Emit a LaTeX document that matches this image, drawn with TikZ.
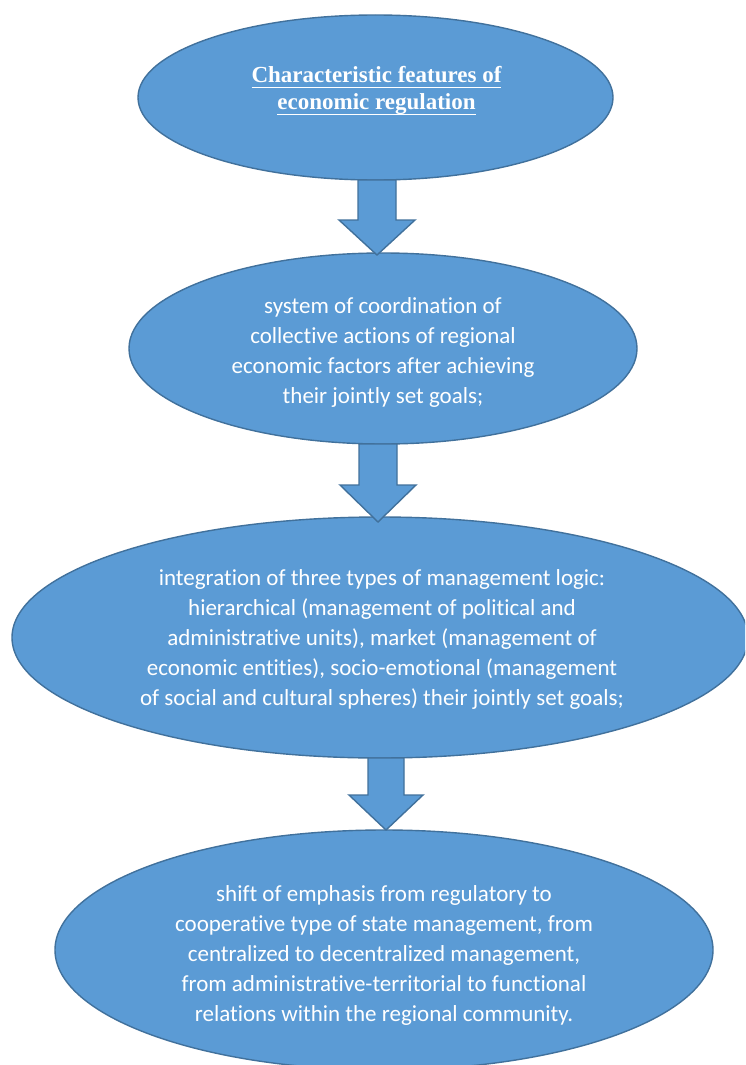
\documentclass[tikz,border=0pt]{standalone}
\usepackage{fontspec}
\setmainfont{Carlito}[RawFeature={-liga,-calt,-clig,-dlig}]
\newfontfamily\titlefont{Liberation Serif}
\usetikzlibrary{shapes.geometric,calc}
\definecolor{fillblue}{HTML}{5B9BD5}
\definecolor{edgeblue}{HTML}{41719C}
\newcommand\myul[1]{\setbox0\hbox{#1}\rlap{\rule[-6pt]{\wd0}{1.2pt}}\box0}
\newcommand\tI{t\kern0pt i}
\begin{document}
\begin{tikzpicture}[x=1pt,y=-1pt,
  ell/.style={ellipse, draw=edgeblue, fill=fillblue, line width=1.4pt, inner sep=0pt, outer sep=0pt},
  txt/.style={text=white, align=center, inner sep=0pt, font=\fontsize{23}{30}\selectfont},
  ttl/.style={text=white, align=center, inner sep=0pt, font=\titlefont\bfseries\fontsize{23}{27}\selectfont},
  barrow/.style={draw=edgeblue, fill=fillblue, line width=1.4pt, line join=miter}]
\useasboundingbox (0,0) rectangle (745,1065);
\clip (0,0) rectangle (745,1065);
\fill[white] (0,0) rectangle (745,1065);
% ellipses
\node[ell, minimum width=475pt, minimum height=165pt] (e1) at (375.5,97.5) {};
\node[ell, minimum width=508pt, minimum height=191pt] (e2) at (383,348.5) {};
\node[ell, minimum width=736pt, minimum height=241pt] (e3) at (380,637.5) {};
\node[ell, minimum width=658pt, minimum height=240pt] (e4) at (384,950) {};
% block arrows
\draw[barrow] let \p1=(e1.south), \p2=(e2.north) in
  (358pt,\y1) -- (396pt,\y1) -- (396pt,\y2+33pt) -- (415pt,\y2+33pt) -- (377pt,\y2-2pt)
  -- (339pt,\y2+33pt) -- (358pt,\y2+33pt) -- cycle;
\draw[barrow] let \p1=(e2.south), \p2=(e3.north) in
  (359pt,\y1) -- (397pt,\y1) -- (397pt,\y2+32pt) -- (416pt,\y2+32pt) -- (378pt,\y2-5pt)
  -- (340pt,\y2+32pt) -- (359pt,\y2+32pt) -- cycle;
\draw[barrow] let \p1=(e3.south), \p2=(e4.north) in
  (368pt,\y1) -- (404pt,\y1) -- (404pt,\y2+35pt) -- (423pt,\y2+35pt) -- (386pt,\y2)
  -- (349pt,\y2+35pt) -- (368pt,\y2+35pt) -- cycle;
% texts
\node[ttl] (t1) at (376.5,90.5) {\myul{Characteristic features of}\\\myul{economic regulation}};
\node[txt] (t2) at (383,352) {system of coordina\tI{}on of\\collective ac\tI{}ons of regional\\economic factors after achieving\\their jointly set goals;};
\node[txt] (t3) at (382,639) {integra\tI{}on of three types of management logic:\\hierarchical (management of poli\tI{}cal and\\administra\tI{}ve units), market (management of\\economic en\tI{}\tI{}es), socio-emo\tI{}onal (management\\of social and cultural spheres) their jointly set goals;};
\node[txt] (t4) at (384,955) {shift of emphasis from regulatory to\\coopera\tI{}ve type of state management, from\\centralized to decentralized management,\\from administra\tI{}ve-territorial to func\tI{}onal\\rela\tI{}ons within the regional community.};
\end{tikzpicture}
\end{document}
